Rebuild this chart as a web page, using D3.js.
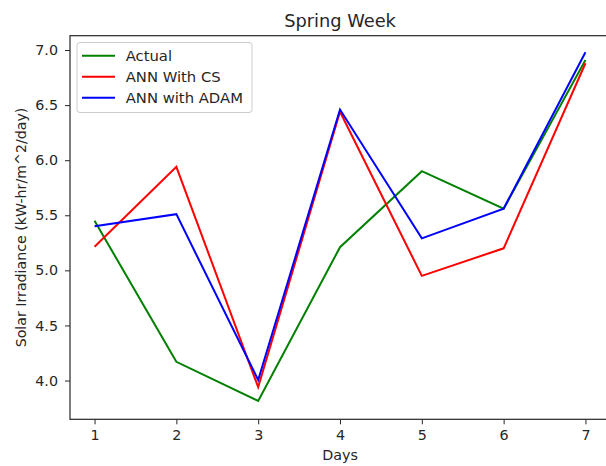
<!DOCTYPE html>
<meta charset="utf-8">
<html>
<script src="https://cdnjs.cloudflare.com/ajax/libs/d3/7.8.5/d3.min.js"></script>
<style>
body { margin: 0; background: #fff; font-family: "DejaVu Sans", sans-serif; }
svg text { fill: #262626; }
</style>
<body>
<svg id="chart" width="606" height="466"></svg>
<script>

// data
var days = [1, 2, 3, 4, 5, 6, 7];
var actual = [5.45, 4.17, 3.815, 5.21, 5.90, 5.56, 6.91];
var annCS = [5.215, 5.94, 3.94, 6.44, 4.95, 5.20, 6.88];
var annAdam = [5.40, 5.51, 4.005, 6.46, 5.29, 5.56, 6.98];
var seriesNames = ["Actual", "ANN With CS", "ANN with ADAM"];
var seriesColors = ["green", "red", "blue"];
var yTicks = [4.0, 4.5, 5.0, 5.5, 6.0, 6.5, 7.0];

var svg = d3.select("#chart");
var plotL = 70, plotR = 610, plotT = 35.7, plotB = 419.3;

var x = d3.scaleLinear().domain([0.7, 7.3]).range([plotL, plotR]);
var y = d3.scaleLinear().domain([3.648, 7.13]).range([plotB, plotT]);

var series = [actual, annCS, annAdam];

var line = d3.line()
	.x(function(d, i) { return x(days[i]); })
	.y(function(d) { return y(d); });

svg.selectAll("path.series")
	.data(series)
	.enter()
	.append("path")
	.attr("class", "series")
	.attr("d", line)
	.attr("fill", "none")
	.attr("stroke-width", 2)
	.attr("stroke", function(d, i) { return seriesColors[i]; });

// axes
var xAxis = d3.axisBottom(x).tickValues(days).tickSize(5).tickPadding(6).tickFormat(d3.format("d"));
var yAxis = d3.axisLeft(y).tickValues(yTicks).tickSize(5).tickPadding(7).tickFormat(d3.format(".1f"));

var gx = svg.append("g").attr("transform", "translate(0," + plotB + ")").call(xAxis);
var gy = svg.append("g").attr("transform", "translate(" + plotL + ",0)").call(yAxis);

[gx, gy].forEach(function(g) {
	g.select(".domain").remove();
	g.selectAll(".tick line").attr("stroke", "#262626").attr("stroke-width", 1);
	g.selectAll(".tick text").attr("font-size", 14.3).attr("font-family", "DejaVu Sans").attr("fill", "#262626");
});

// frame
svg.append("rect")
	.attr("x", plotL).attr("y", plotT)
	.attr("width", plotR - plotL).attr("height", plotB - plotT)
	.attr("fill", "none").attr("stroke", "#262626").attr("stroke-width", 1.2);

// titles
svg.append("text")
	.attr("x", 340).attr("y", 26.5)
	.attr("text-anchor", "middle")
	.attr("font-size", 17.8)
	.text("Spring Week");

svg.append("text")
	.attr("x", 340).attr("y", 460)
	.attr("text-anchor", "middle")
	.attr("font-size", 14.3)
	.text("Days");

svg.append("text")
	.attr("transform", "translate(25.5," + ((plotT + plotB) / 2) + ") rotate(-90)")
	.attr("text-anchor", "middle")
	.attr("font-size", 14.2)
	.text("Solar Irradiance (kW-hr/m^2/day)");

// legend
var lg = svg.append("g").attr("transform", "translate(77,42.5)");
lg.append("rect")
	.attr("width", 175).attr("height", 70)
	.attr("rx", 3)
	.attr("fill", "white").attr("fill-opacity", 0.8)
	.attr("stroke", "#cccccc");

var items = lg.selectAll("g.item")
	.data(seriesNames)
	.enter()
	.append("g")
	.attr("transform", function(d, i) { return "translate(0," + (13.2 + i * 21) + ")"; });

items.append("line")
	.attr("x1", 5).attr("x2", 38)
	.attr("stroke-width", 2)
	.attr("stroke", function(d, i) { return seriesColors[i]; });

items.append("text")
	.attr("x", 48.7).attr("y", 5.3)
	.attr("font-size", 14.8)
	.text(function(d) { return d; });

</script>
</body>
</html>
